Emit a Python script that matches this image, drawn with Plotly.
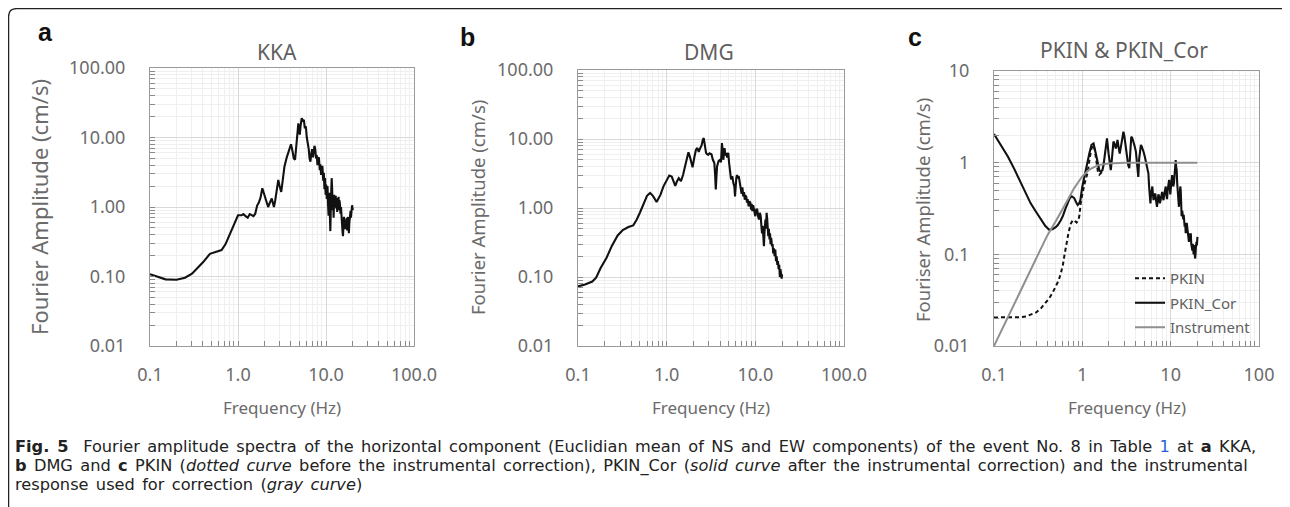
import plotly.graph_objects as go

# ---------------- data ----------------
kka_f = [0.10, 0.12, 0.15, 0.20, 0.25, 0.30, 0.34, 0.40, 0.48, 0.55, 0.65, 0.72, 0.80, 0.90,
         1.00, 1.10, 1.15, 1.22, 1.29, 1.36, 1.43, 1.50, 1.57, 1.65, 1.72, 1.80, 1.89, 1.96,
         2.04, 2.12, 2.20, 2.30, 2.42, 2.50, 2.56, 2.65, 2.78, 2.87, 2.97, 3.10, 3.22, 3.37,
         3.57, 3.80, 4.00, 4.15, 4.30, 4.45, 4.60, 4.75, 4.85, 4.95, 5.04, 5.15, 5.30, 5.45,
         5.60, 5.75, 5.90, 6.05, 6.20, 6.35, 6.50, 6.65, 6.80, 6.95, 7.10, 7.25, 7.40, 7.55,
         7.70, 7.85, 8.00, 8.15, 8.30, 8.50, 8.65, 8.80, 8.95, 9.10, 9.30, 9.45, 9.60, 9.75,
         9.90, 10.05, 10.20, 10.40, 10.55, 10.70, 10.90, 11.05, 11.20, 11.40, 11.60, 11.75,
         11.90, 12.05, 12.20, 12.40, 12.55, 12.70, 12.90, 13.05, 13.20, 13.40, 13.55, 13.70,
         13.90, 14.05, 14.20, 14.40, 14.60, 14.80, 15.00, 15.20, 15.40, 15.60, 15.80, 16.00,
         16.20, 16.40, 16.60, 16.80, 17.00, 17.20, 17.40, 17.60, 17.80, 18.00, 18.20, 18.40,
         18.60, 18.80, 19.00, 19.20, 19.40, 19.60, 19.80, 20.00, 20.20]
kka_a = [0.108, 0.100, 0.091, 0.090, 0.096, 0.110, 0.128, 0.160, 0.212, 0.226, 0.240, 0.290,
         0.400, 0.570, 0.760, 0.760, 0.790, 0.740, 0.700, 0.790, 0.760, 0.740, 0.800, 1.05,
         1.15, 1.35, 1.86, 1.60, 1.35, 1.10, 1.00, 1.15, 1.33, 1.12, 1.00, 1.25, 2.10, 2.45,
         2.00, 1.65, 2.40, 3.80, 5.10, 6.40, 8.00, 6.50, 5.00, 4.80, 7.00, 12.0, 16.0, 13.0,
         11.0, 15.0, 19.0, 17.5, 18.0, 13.5, 14.5, 10.0, 8.5, 7.0, 5.0, 4.5, 5.8, 6.8, 5.2,
         6.4, 7.6, 6.8, 5.0, 5.6, 4.0, 4.9, 5.2, 3.4, 4.1, 2.9, 3.6, 3.9, 2.4, 3.1, 1.8, 2.6,
         1.5, 2.1, 1.3, 2.0, 1.1, 0.75, 1.6, 0.55, 0.45, 1.3, 2.6, 1.8, 0.9, 1.4, 0.7, 1.5,
         1.0, 1.2, 1.45, 0.95, 1.35, 0.85, 1.2, 1.0, 1.4, 0.9, 1.25, 1.1, 0.8, 1.0, 0.65,
         0.72, 0.45, 0.38, 0.62, 0.72, 0.5, 0.66, 0.48, 0.6, 0.52, 0.7, 0.46, 0.62, 0.72, 0.5,
         0.42, 0.58, 0.75, 0.62, 0.88, 0.7, 0.95, 0.82, 1.06, 0.95, 0.9]

dmg_f = [0.10, 0.12, 0.145, 0.16, 0.18, 0.21, 0.24, 0.28, 0.32, 0.37, 0.42, 0.46, 0.50, 0.55,
         0.60, 0.65, 0.70, 0.77, 0.85, 0.92, 1.00, 1.07, 1.14, 1.20, 1.25, 1.30, 1.37, 1.45,
         1.53, 1.61, 1.68, 1.76, 1.83, 1.90, 1.96, 2.05, 2.14, 2.22, 2.30, 2.38, 2.47, 2.56,
         2.62, 2.70, 2.78, 2.87, 2.95, 3.05, 3.20, 3.32, 3.45, 3.52, 3.58, 3.64, 3.70, 3.85,
         4.00, 4.10, 4.20, 4.28, 4.35, 4.42, 4.50, 4.60, 4.70, 4.80, 4.95, 5.05, 5.20, 5.30,
         5.40, 5.50, 5.65, 5.80, 5.90, 6.00, 6.10, 6.20, 6.35, 6.50, 6.65, 6.80, 6.90, 7.00,
         7.15, 7.30, 7.45, 7.60, 7.75, 7.90, 8.05, 8.20, 8.40, 8.60, 8.80, 8.95, 9.10, 9.25,
         9.45, 9.60, 9.80, 10.0, 10.25, 10.50, 10.75, 11.00, 11.25, 11.50, 11.70, 11.90,
         12.10, 12.30, 12.50, 12.70, 12.85, 13.00, 13.20, 13.40, 13.60, 13.80, 14.00, 14.20,
         14.45, 14.65, 14.85, 15.10, 15.40, 15.65, 15.90, 16.20, 16.50, 16.80, 17.10, 17.40,
         17.70, 18.00, 18.30, 18.60, 18.90, 19.20, 19.50, 19.80, 20.00]
dmg_a = [0.073, 0.078, 0.086, 0.098, 0.135, 0.19, 0.28, 0.40, 0.48, 0.53, 0.56, 0.68, 0.86,
         1.18, 1.50, 1.65, 1.50, 1.22, 1.55, 2.06, 2.5, 2.95, 2.85, 2.3, 2.1, 2.4, 2.7, 2.45,
         3.0, 4.0, 5.3, 6.4, 5.5, 4.3, 3.9, 5.4, 7.0, 7.4, 6.5, 7.3, 8.0, 9.8, 10.3, 8.0, 6.3,
         6.0, 5.9, 6.2, 6.0, 5.0, 4.5, 3.0, 1.85, 2.8, 4.0, 4.8, 5.0, 4.6, 8.7, 7.0, 5.0, 6.0,
         7.4, 5.8, 6.3, 5.4, 6.3, 4.6, 3.0, 2.7, 2.6, 2.9, 2.3, 2.06, 1.47, 2.3, 2.7, 3.0, 2.8,
         2.9, 2.3, 2.0, 1.85, 1.6, 2.0, 1.47, 1.7, 1.32, 1.5, 1.47, 1.2, 1.35, 1.06, 1.25,
         1.18, 0.95, 1.15, 0.9, 1.1, 1.0, 0.85, 0.76, 0.95, 0.95, 0.75, 0.68, 0.85, 0.76,
         0.55, 0.43, 0.55, 0.35, 0.28, 0.45, 0.6, 0.68, 0.5, 0.85, 0.7, 0.5, 0.39, 0.5, 0.35,
         0.43, 0.3, 0.37, 0.28, 0.3, 0.22, 0.26, 0.2, 0.25, 0.17, 0.2, 0.15, 0.17, 0.13, 0.15,
         0.10, 0.13, 0.11, 0.095, 0.11]

pkin_f = [0.10, 0.13, 0.16, 0.20, 0.23, 0.26, 0.30, 0.34, 0.38, 0.42, 0.46, 0.50, 0.54, 0.57,
          0.60, 0.63, 0.66, 0.70, 0.74, 0.78, 0.82, 0.86, 0.90, 0.93, 0.96, 1.00, 1.05, 1.10,
          1.15, 1.20, 1.26, 1.32, 1.38, 1.44, 1.50, 1.56, 1.62, 1.69]
pkin_a = [0.0205, 0.0204, 0.0204, 0.0206, 0.0210, 0.0218, 0.0232, 0.0258, 0.029, 0.033,
          0.038, 0.045, 0.052, 0.062, 0.075, 0.10, 0.13, 0.175, 0.215, 0.237, 0.232, 0.222,
          0.235, 0.27, 0.37, 0.47, 0.57, 0.68, 0.78, 1.05, 1.40, 1.55, 1.40, 1.05, 0.80, 0.74,
          0.76, 0.80]

pkincor_f = [0.10, 0.12, 0.144, 0.17, 0.203, 0.23, 0.26, 0.30, 0.342, 0.38, 0.42, 0.46, 0.50,
             0.53, 0.57, 0.60, 0.64, 0.68, 0.72, 0.76, 0.81, 0.85, 0.885, 0.92, 0.95, 1.00,
             1.05, 1.10, 1.15, 1.20, 1.27, 1.34, 1.42, 1.50, 1.56, 1.62, 1.69, 1.74, 1.79,
             1.85, 1.90, 1.98, 2.04, 2.10, 2.18, 2.25, 2.32, 2.39, 2.45, 2.50, 2.58, 2.65,
             2.72, 2.80, 2.86, 2.92, 2.98, 3.03, 3.10, 3.20, 3.30, 3.40, 3.48, 3.58, 3.68,
             3.80, 3.92, 4.04, 4.12, 4.20, 4.30, 4.40, 4.50, 4.60, 4.70, 4.80, 4.95, 5.10,
             5.20, 5.30, 5.45, 5.60, 5.70, 5.80, 5.90, 6.00, 6.10, 6.20, 6.30, 6.40, 6.55,
             6.70, 6.85, 7.00, 7.10, 7.25, 7.40, 7.55, 7.70, 7.85, 8.00, 8.15, 8.30, 8.45,
             8.60, 8.80, 8.95, 9.10, 9.25, 9.40, 9.60, 9.75, 9.90, 10.00, 10.20, 10.40, 10.55,
             10.70, 10.90, 11.10, 11.30, 11.40, 11.55, 11.70, 11.85, 12.00, 12.10, 12.25,
             12.40, 12.55, 12.70, 12.85, 13.00, 13.15, 13.30, 13.50, 13.70, 13.90, 14.05,
             14.20, 14.40, 14.60, 14.80, 15.00, 15.20, 15.40, 15.60, 15.80, 16.10, 16.30,
             16.50, 16.70, 16.90, 17.10, 17.30, 17.60, 17.80, 18.00, 18.20, 18.40, 18.60,
             18.90, 19.10, 19.30, 19.60, 19.80, 20.10]
pkincor_a = [2.05, 1.55, 1.16, 0.85, 0.60, 0.46, 0.36, 0.29, 0.237, 0.205, 0.186, 0.188, 0.198,
             0.21, 0.235, 0.26, 0.31, 0.36, 0.41, 0.43, 0.41, 0.37, 0.345, 0.36, 0.39, 0.55,
             0.70, 0.90, 1.05, 1.26, 1.56, 1.62, 1.26, 0.95, 0.82, 0.80, 0.83, 0.95, 1.16,
             1.55, 1.84, 1.26, 0.95, 0.83, 1.2, 1.70, 1.60, 1.43, 1.55, 1.77, 1.45, 1.26, 1.45,
             1.70, 1.95, 2.18, 2.0, 1.77, 1.40, 1.07, 0.95, 0.87, 1.3, 1.92, 1.85, 1.70, 1.5,
             1.32, 1.0, 0.83, 0.70, 1.1, 1.4, 1.56, 1.5, 1.43, 1.3, 1.16, 1.05, 0.98, 0.88,
             0.76, 0.55, 0.45, 0.36, 0.45, 0.52, 0.55, 0.45, 0.39, 0.44, 0.46, 0.38, 0.33,
             0.37, 0.45, 0.43, 0.36, 0.39, 0.46, 0.48, 0.42, 0.39, 0.45, 0.50, 0.55, 0.44,
             0.40, 0.50, 0.58, 0.65, 0.55, 0.45, 0.50, 0.62, 0.73, 0.65, 0.55, 0.60, 0.80,
             0.95, 1.07, 0.90, 0.83, 0.60, 0.48, 0.43, 0.38, 0.33, 0.40, 0.48, 0.55, 0.50,
             0.36, 0.26, 0.30, 0.28, 0.24, 0.27, 0.24, 0.20, 0.22, 0.17, 0.19, 0.22, 0.20,
             0.16, 0.15, 0.137, 0.15, 0.17, 0.14, 0.17, 0.13, 0.12, 0.11, 0.13, 0.115, 0.10,
             0.126, 0.11, 0.09, 0.10, 0.12, 0.137, 0.125, 0.155]

inst_f = [0.1, 0.15, 0.2, 0.3, 0.4, 0.5, 0.6, 0.7, 0.8, 0.9, 1.0, 1.2, 1.5, 2, 3, 5, 10, 20]
inst_a = [0.01, 0.0225, 0.04, 0.09, 0.16, 0.23, 0.31, 0.41, 0.52, 0.62, 0.71, 0.84, 0.94, 0.98,
          1.0, 1.0, 1.0, 1.0]

x_tickvals = [0.1, 1, 10, 100]
x_ticktext_ab = ["0.1", "1.0", "10.0", "100.0"]
x_ticktext_c = ["0.1", "1", "10", "100"]
y_tickvals_ab = [0.01, 0.1, 1, 10, 100]
y_ticktext_ab = ["0.01", "0.10", "1.00", "10.00", "100.00"]
y_tickvals_c = [0.01, 0.1, 1, 10]
y_ticktext_c = ["0.01", "0.1", "1", "10"]

titles = ["KKA", "DMG", "PKIN & PKIN_Cor"]
panel_letters = ["a", "b", "c"]
y_titles = ["Fourier Amplitude (cm/s)", "Fourier Amplitude (cm/s)", "Fouriser Amplitude (cm/s)"]
x_title = "Frequency (Hz)"

# ---------------- layout helpers ----------------
W, H = 1290, 507
OX, OY = 8, 8          # the page places the figure 8 px in from the window corner
def px(x):
    return (x - OX) / W
def py(y):
    return 1 - (y - OY) / H

panels = [  # x0, x1, y0(top), y1(bottom) in window pixels
    (150, 414, 68, 346),
    (578, 844, 70, 346),
    (994, 1259, 71, 346),
]

FONT = "Noto Sans, Open Sans, DejaVu Sans, sans-serif"
CAP_FONT = "DejaVu Sans, Noto Sans, sans-serif"
GRAY_TXT = "#6b6b6b"
TITLE_TXT = "#5f5f5f"

minor_vals = [m * 10 ** e for e in range(-3, 3) for m in range(2, 10)]

fig = go.Figure()

line_black = dict(color="#111111", width=2.1)
fig.add_trace(go.Scatter(x=kka_f, y=kka_a, mode="lines", line=line_black, showlegend=False,
                         xaxis="x", yaxis="y"))
fig.add_trace(go.Scatter(x=dmg_f, y=dmg_a, mode="lines", line=line_black, showlegend=False,
                         xaxis="x2", yaxis="y2"))
fig.add_trace(go.Scatter(x=pkin_f, y=pkin_a, mode="lines", name="PKIN", legendgroup="g1",
                         line=dict(color="#111111", width=2, dash="4px,3px"),
                         xaxis="x3", yaxis="y3"))
fig.add_trace(go.Scatter(x=pkincor_f, y=pkincor_a, mode="lines", name="PKIN_Cor", legendgroup="g2",
                         line=line_black, xaxis="x3", yaxis="y3"))
fig.add_trace(go.Scatter(x=inst_f, y=inst_a, mode="lines", name="Instrument", legendgroup="g3",
                         line=dict(color="#8f8f8f", width=2), xaxis="x3", yaxis="y3"))

axis_common = dict(
    type="log", showline=True, linecolor="#9a9a9a", linewidth=1, mirror=True,
    showgrid=True, gridcolor="#d9d9d9", gridwidth=1, zeroline=False, automargin=False,
    tickfont=dict(family=FONT, size=18, color=GRAY_TXT),
    ticks="inside", ticklen=5, tickcolor="#8a8a8a", tickmode="array",
    minor=dict(tickmode="array", tickvals=minor_vals, ticks="inside", ticklen=5,
               tickcolor="#8a8a8a", showgrid=True, gridcolor="#efefef", gridwidth=1),
)

layout = dict(
    width=W, height=H, autosize=False,
    margin=dict(l=0, r=0, t=0, b=0, pad=0, autoexpand=False),
    paper_bgcolor="white", plot_bgcolor="white",
    font=dict(family=FONT, color=GRAY_TXT),
    showlegend=True,
    legend=dict(x=px(1130), y=py(262), xanchor="left", yanchor="top",
                bgcolor="rgba(0,0,0,0)", borderwidth=0,
                font=dict(family=FONT, size=15, color=TITLE_TXT),
                tracegroupgap=2, itemwidth=30),
)

suffix = ["", "2", "3"]
for i, (x0, x1, y0, y1) in enumerate(panels):
    xa = dict(axis_common, domain=[px(x0), px(x1)], range=[-1, 2], tickvals=x_tickvals,
              ticktext=x_ticktext_c if i == 2 else x_ticktext_ab, ticklabelstandoff=12,
              anchor="y" + suffix[i])
    if i == 2:
        ya = dict(axis_common, domain=[py(y1), py(y0)], range=[-2, 1], tickvals=y_tickvals_c,
                  ticktext=y_ticktext_c, ticklabelstandoff=20, anchor="x" + suffix[i])
    else:
        ya = dict(axis_common, domain=[py(y1), py(y0)], range=[-2, 2], tickvals=y_tickvals_ab,
                  ticktext=y_ticktext_ab, ticklabelstandoff=20, anchor="x" + suffix[i])
    layout["xaxis" + suffix[i]] = xa
    layout["yaxis" + suffix[i]] = ya

fig.update_layout(**layout)

ann = []
title_pos = [(277, 52), (709, 52), (1124, 50)]
letter_pos = [(45, 32), (467, 37), (915, 37)]
ytitle_pos = [(39, 207), (477, 208), (922, 210)]
ytitle_size = [22, 18.5, 18.5]
for i, (x0, x1, y0, y1) in enumerate(panels):
    ann.append(dict(text=titles[i], x=px(title_pos[i][0]), y=py(title_pos[i][1]), xref="paper",
                    yref="paper", showarrow=False, xanchor="center", yanchor="middle",
                    font=dict(family=FONT, size=21, color=TITLE_TXT)))
    ann.append(dict(text="<b>" + panel_letters[i] + "</b>", x=px(letter_pos[i][0]),
                    y=py(letter_pos[i][1]), xref="paper", yref="paper", showarrow=False,
                    xanchor="center", yanchor="middle",
                    font=dict(family="Liberation Sans, Arial, sans-serif", size=25, color="#111111")))
    ann.append(dict(text=y_titles[i], x=px(ytitle_pos[i][0]), y=py(ytitle_pos[i][1]), xref="paper",
                    yref="paper", showarrow=False, xanchor="center", yanchor="middle",
                    textangle=-90, font=dict(family=FONT, size=ytitle_size[i], color=GRAY_TXT)))
    ann.append(dict(text=x_title, x=px((x0 + x1) / 2), y=py(407), xref="paper", yref="paper",
                    showarrow=False, xanchor="center", yanchor="middle",
                    font=dict(family=FONT, size=17, color=GRAY_TXT)))

caption_lines = [
    "<b>Fig. 5</b>&nbsp;&nbsp;Fourier amplitude spectra of the horizontal component (Euclidian mean of NS and EW components) of the event No. 8 in Table <span style='color:#2b5fd9'>1</span> at <b>a</b> KKA,",
    "<b>b</b> DMG and <b>c</b> PKIN (<i>dotted curve</i> before the instrumental correction), PKIN_Cor (<i>solid curve</i> after the instrumental correction) and the instrumental",
    "response used for correction (<i>gray curve</i>)",
]
# one text block: line pitch set by the base size (19 px), glyphs a little larger
cap_style = "font-size:16.2px;word-spacing:2.2px"
caption_text = "<br>".join("<span style='" + cap_style + "'>" + s + "</span>" for s in caption_lines)
ann.append(dict(text=caption_text, x=px(13), y=py(465), xref="paper", yref="paper",
                showarrow=False, xanchor="left", yanchor="middle", align="left",
                font=dict(family=CAP_FONT, size=14.62, color="#222222")))

fig.update_layout(annotations=ann)

# outer frame (rounded top corners)
r = 8
fx0, fy0, fx1 = 8.6, 8.6, 1290
path = (f"M {px(fx0)},{py(507)} L {px(fx0)},{py(fy0 + r)} Q {px(fx0)},{py(fy0)} {px(fx0 + r)},{py(fy0)} "
        f"L {px(fx1 - r)},{py(fy0)} Q {px(fx1)},{py(fy0)} {px(fx1)},{py(fy0 + r)} L {px(fx1)},{py(507)}")
fig.add_shape(type="path", path=path, xref="paper", yref="paper",
              line=dict(color="#222222", width=1.3))

fig.write_html("out.html")
